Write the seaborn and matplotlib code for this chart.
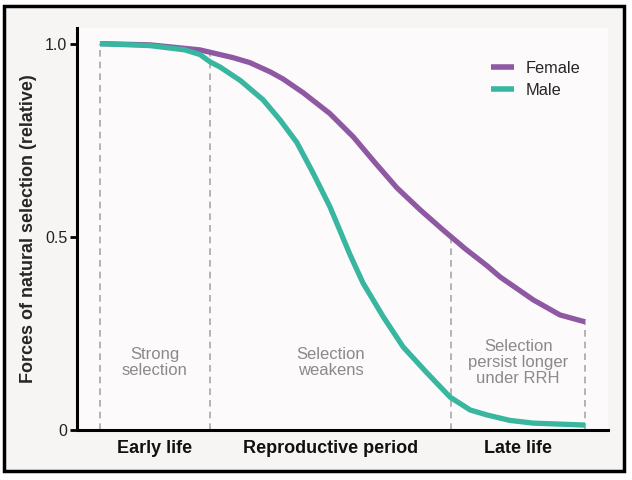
import numpy as np
import pandas as pd
import seaborn as sns
import matplotlib.pyplot as plt
from matplotlib.patches import Rectangle

# age on an arbitrary 0-100 scale
female_age = [0, 10.3, 20.6, 27.4, 30.9, 35.1, 37.7, 41.9, 47.4, 52.2, 56.7, 61.2, 66.0,
              70.7, 75.3, 79.8, 82.5, 89.3, 94.8, 100]
female = [1.000, 0.997, 0.984, 0.964, 0.951, 0.927, 0.909, 0.873, 0.819, 0.759, 0.692, 0.627, 0.570,
          0.518, 0.469, 0.425, 0.396, 0.337, 0.298, 0.280]
male_age = [0, 10.3, 17.5, 20.6, 22.7, 24.7, 28.9, 33.6, 37.1, 40.6, 43.9, 47.4, 51.5,
            54.2, 58.4, 62.5, 67.4, 72.2, 76.3, 79.8, 84.5, 89.3, 100]
male = [1.000, 0.995, 0.984, 0.972, 0.953, 0.940, 0.905, 0.855, 0.803, 0.744, 0.666, 0.578, 0.455,
        0.381, 0.293, 0.215, 0.148, 0.085, 0.052, 0.039, 0.025, 0.018, 0.013]

region_edges = [0, 22.7, 72.4, 100]
region_names = ["Early life", "Reproductive period", "Late life"]
region_notes = ["Strong\nselection", "Selection\nweakens", "Selection\npersist longer\nunder RRH"]

df = pd.concat([
    pd.DataFrame({"age": female_age, "value": female, "sex": "Female"}),
    pd.DataFrame({"age": male_age, "value": male, "sex": "Male"}),
])

sns.set_theme(style="white")
plt.rcParams['font.family'] = ['Liberation Sans', 'DejaVu Sans']

fig = plt.figure(figsize=(6.32, 4.8), dpi=100, facecolor="white")
frame = Rectangle((0.0063, 0.019), 0.981, 0.9685, transform=fig.transFigure,
                  facecolor="#f6f5f3", edgecolor="black", linewidth=2.5, zorder=-10)
fig.add_artist(frame)
ax = fig.add_axes([0.122, 0.104, 0.84, 0.838])
ax.set_facecolor("#fcfafa")

sns.lineplot(data=df, x="age", y="value", hue="sex",
             palette={"Female": "#8e58a2", "Male": "#38b6a0"},
             linewidth=3.8, ax=ax, zorder=3, solid_capstyle="butt", solid_joinstyle="round")

tops = np.interp(region_edges, female_age, female)
ax.vlines(region_edges, 0, tops, colors="#a8a8a8", linestyles=(0, (4, 3)), linewidth=1.2, zorder=2)

mids = [(a + b) / 2 for a, b in zip(region_edges[:-1], region_edges[1:])]
for m, note in zip(mids, region_notes):
    ax.text(m, 0.175, note, ha="center", va="center", color="#8a8a8a", fontsize=12, linespacing=1.1)

ax.set_xlim(-4.7, 104.7)
ax.set_ylim(0, 1.041)
ax.set_xticks(mids)
ax.set_xticklabels(region_names, fontsize=13, fontweight="bold", color="#111111")
ax.set_yticks([0, 0.5, 1.0])
ax.set_yticklabels(["0", "0.5", "1.0"], fontsize=11.5, color="#222222")
ax.tick_params(axis="x", length=0, pad=7)
ax.tick_params(axis="y", length=5, width=2, color="black", pad=2, left=True)
ax.set_xlabel("")
ax.set_ylabel("Forces of natural selection (relative)", fontsize=13, fontweight="bold", labelpad=6)

for side in ["top", "right"]:
    ax.spines[side].set_visible(False)
for side in ["left", "bottom"]:
    ax.spines[side].set_color("black")
    ax.spines[side].set_linewidth(2.2)

leg = ax.legend(loc="upper right", bbox_to_anchor=(0.976, 0.955), frameon=False, fontsize=11.8,
                handlelength=1.45, handletextpad=0.7, labelspacing=0.46)
for line in leg.get_lines():
    line.set_linewidth(4)

fig.savefig("out.png", dpi=100, facecolor=fig.get_facecolor())
